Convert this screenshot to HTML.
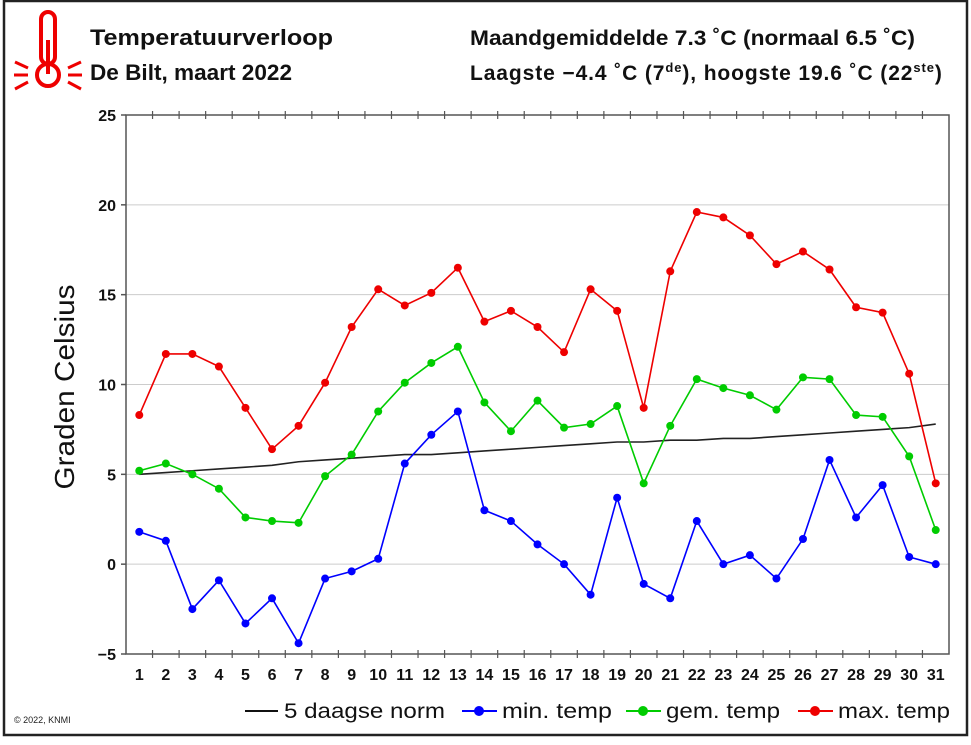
<!DOCTYPE html>
<html><head><meta charset="utf-8"><style>
body{margin:0;background:#fff;}
svg{display:block;font-family:"Liberation Sans",Arial,sans-serif;}
</style></head><body>
<svg width="971" height="745" viewBox="0 0 971 745">
<rect x="4" y="1" width="963" height="734" fill="#fff" stroke="#222" stroke-width="2.5"/>
<g>
<rect x="41" y="12" width="14" height="52" rx="7" fill="#fff" stroke="#e00" stroke-width="4"/>
<circle cx="48" cy="75" r="11" fill="#fff" stroke="#e00" stroke-width="4"/>
<rect x="46" y="40" width="4" height="34" fill="#e00"/>
<g stroke="#e00" stroke-width="3"><line x1="14" y1="75" x2="28" y2="75"/><line x1="68" y1="75" x2="82" y2="75"/><line x1="15" y1="62" x2="28" y2="68"/><line x1="15" y1="89" x2="28" y2="82"/><line x1="68" y1="68" x2="81" y2="62"/><line x1="68" y1="82" x2="81" y2="89"/></g>
</g>
<text x="90" y="45" font-size="22" font-weight="bold" fill="#111" textLength="243" lengthAdjust="spacingAndGlyphs">Temperatuurverloop</text>
<text x="90" y="80" font-size="22" font-weight="bold" fill="#111" textLength="202" lengthAdjust="spacingAndGlyphs">De Bilt, maart 2022</text>
<text x="470" y="45" font-size="21" font-weight="bold" fill="#111" textLength="445" lengthAdjust="spacingAndGlyphs">Maandgemiddelde 7.3 ˚C (normaal 6.5 ˚C)</text>
<text x="470" y="80" font-size="21" font-weight="bold" fill="#111" letter-spacing="0.9">Laagste −4.4 ˚C (7<tspan font-size="13" dy="-8">de</tspan><tspan dy="8">), hoogste 19.6 ˚C (22</tspan><tspan font-size="13" dy="-8">ste</tspan><tspan dy="8">)</tspan></text>
<text transform="translate(74,387) rotate(-90)" text-anchor="middle" font-size="28" fill="#111" textLength="205" lengthAdjust="spacingAndGlyphs">Graden Celsius</text>
<g id="grid"></g><g id="axes"></g><g id="series"></g>
<text x="14" y="723" font-size="9" fill="#222">© 2022, KNMI</text>
<g font-size="21" fill="#111">
<g><line x1="245" y1="711" x2="278" y2="711" stroke="#111" stroke-width="2"/><text x="284" y="718" textLength="161" lengthAdjust="spacingAndGlyphs">5 daagse norm</text></g>
<g><line x1="462" y1="711" x2="497" y2="711" stroke="#00f" stroke-width="2"/><circle cx="479" cy="711" r="5" fill="#00f"/><text x="502" y="718" textLength="110" lengthAdjust="spacingAndGlyphs">min. temp</text></g>
<g><line x1="626" y1="711" x2="661" y2="711" stroke="#0c0" stroke-width="2"/><circle cx="643" cy="711" r="5" fill="#0c0"/><text x="666" y="718" textLength="114" lengthAdjust="spacingAndGlyphs">gem. temp</text></g>
<g><line x1="798" y1="711" x2="833" y2="711" stroke="#e00" stroke-width="2"/><circle cx="815" cy="711" r="5" fill="#e00"/><text x="838" y="718" textLength="112" lengthAdjust="spacingAndGlyphs">max. temp</text></g>
</g>
</svg>
<script>
const days=[1,2,3,4,5,6,7,8,9,10,11,12,13,14,15,16,17,18,19,20,21,22,23,24,25,26,27,28,29,30,31];
const maxTemp=[8.3,11.7,11.7,11.0,8.7,6.4,7.7,10.1,13.2,15.3,14.4,15.1,16.5,13.5,14.1,13.2,11.8,15.3,14.1,8.7,16.3,19.6,19.3,18.3,16.7,17.4,16.4,14.3,14.0,10.6,4.5];
const meanTemp=[5.2,5.6,5.0,4.2,2.6,2.4,2.3,4.9,6.1,8.5,10.1,11.2,12.1,9.0,7.4,9.1,7.6,7.8,8.8,4.5,7.7,10.3,9.8,9.4,8.6,10.4,10.3,8.3,8.2,6.0,1.9];
const minTemp=[1.8,1.3,-2.5,-0.9,-3.3,-1.9,-4.4,-0.8,-0.4,0.3,5.6,7.2,8.5,3.0,2.4,1.1,0.0,-1.7,3.7,-1.1,-1.9,2.4,0.0,0.5,-0.8,1.4,5.8,2.6,4.4,0.4,0.0];
const normTemp=[5.0,5.1,5.2,5.3,5.4,5.5,5.7,5.8,5.9,6.0,6.1,6.1,6.2,6.3,6.4,6.5,6.6,6.7,6.8,6.8,6.9,6.9,7.0,7.0,7.1,7.2,7.3,7.4,7.5,7.6,7.8];
const yTicks=[-5,0,5,10,15,20,25];
const yTickLabels=["\u22125","0","5","10","15","20","25"];
const NS="http://www.w3.org/2000/svg";
const L=126,R=949,T=115,B=654;
const yMin=-5,yMax=25;
const sx=d=>L+(R-L)/days.length*(d-0.5);
const sy=v=>B-(v-yMin)/(yMax-yMin)*(B-T);
function mk(tag,attrs,parent){const e=document.createElementNS(NS,tag);for(const k in attrs)e.setAttribute(k,attrs[k]);parent.appendChild(e);return e;}
const grid=document.getElementById('grid'),axes=document.getElementById('axes'),series=document.getElementById('series');
mk('rect',{x:L,y:T,width:R-L,height:B-T,fill:'none',stroke:'#555','stroke-width':1.5},axes);
yTicks.forEach((t,i)=>{
  const y=sy(t);
  if(t>yMin&&t<yMax){const g=mk('line',{x1:L,x2:R,y1:y,y2:y,stroke:'#ccc','stroke-width':1},grid);
  
  }
  mk('line',{x1:L-5,x2:L,y1:y,y2:y,stroke:'#555','stroke-width':1.5},axes);
  const tx=mk('text',{x:L-10,y:y+6,'text-anchor':'end','font-size':16,'font-weight':'bold',fill:'#111'},axes);
  tx.textContent=yTickLabels[i];
  
  
});
for(let k=1;k<days.length;k++){const x=L+(R-L)/days.length*k;
  mk('line',{x1:x,x2:x,y1:T-4,y2:T+4,stroke:'#555','stroke-width':1.2},axes);
  mk('line',{x1:x,x2:x,y1:B-4,y2:B+4,stroke:'#555','stroke-width':1.2},axes);}
days.forEach(d=>{const tx=mk('text',{x:sx(d),y:B+26,'text-anchor':'middle','font-size':16,'font-weight':'bold',fill:'#111'},axes);
  tx.textContent=d;
  
  });
function line(vals,color,name,dots){
  const pts=vals.map((v,i)=>sx(days[i])+','+sy(v)).join(' ');
  const p=mk('polyline',{points:pts,fill:'none',stroke:color,'stroke-width':1.6},series);
  
  
  if(dots)vals.forEach((v,i)=>{const c=mk('circle',{cx:sx(days[i]),cy:sy(v),r:4,fill:color},series);
    
    });
}
line(normTemp,'#222','norm',false);
line(minTemp,'#00f','min-temp',true);
line(meanTemp,'#0c0','mean-temp',true);
line(maxTemp,'#e00','max-temp',true);
</script>
</body></html>
